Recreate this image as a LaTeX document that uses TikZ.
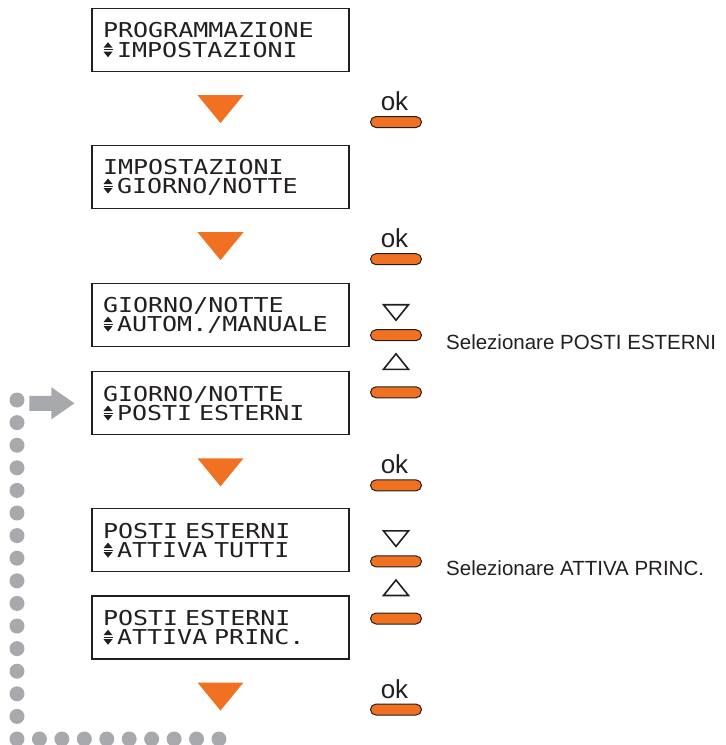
\documentclass[tikz,border=0pt]{standalone}
\usepackage{fontspec}
\setmainfont{Liberation Sans}
\newfontfamily\lcdfont[FakeStretch=1.22]{DejaVu Sans Mono}
\usetikzlibrary{positioning,calc}

\definecolor{btnorange}{RGB}{241,113,35}
\definecolor{dotgray}{RGB}{168,169,173}
\definecolor{inkgray}{RGB}{35,31,32}

% up/down selector sign used on the display
\newcommand{\updn}{\tikz[baseline=0pt,x=1pt,y=1pt]{%
  \fill[inkgray] (0.5,9.5) -- (9.5,9.5) -- (5,15) -- cycle;
  \draw[inkgray,line width=1pt] (0.5,7.5) -- (9.5,7.5);
  \fill[inkgray] (0.5,5.5) -- (9.5,5.5) -- (5,0) -- cycle;
  \useasboundingbox (0,0) rectangle (14,15);}}

\tikzset{
  display/.style={draw=inkgray, line width=1.1pt, minimum width=257pt, minimum height=63pt,
    inner sep=0pt, text width=235pt, align=left, text=inkgray,
    font=\lcdfont\fontsize{20.5}{19.5}\selectfont},
  okbtn/.style={draw=inkgray, line width=1pt, fill=btnorange, rounded corners=5.5pt,
    minimum width=51pt, minimum height=11pt, inner sep=0pt},
  oklabel/.style={font=\fontsize{26}{26}\selectfont, text=inkgray, inner sep=0pt},
  hint/.style={font=\fontsize{20.5}{24}\selectfont, text=inkgray, inner sep=0pt, anchor=west},
  marker/.style={fill=btnorange},
  keytri/.style={draw=inkgray, line width=1.6pt, line join=miter}
}

\begin{document}
\begin{tikzpicture}[x=1pt, y=1pt]
  \useasboundingbox (0,0) rectangle (726,-745);

  \node[display] (disp1) at (220.5,-40) {PROGRAMMAZIONE\\\updn IMPOSTAZIONI};
  \node[display, below=73pt of disp1] (disp2) {IMPOSTAZIONI\\\updn GIORNO/NOTTE};
  \node[display, below=74pt of disp2] (disp3) {GIORNO/NOTTE\\\updn AUTOM./MANUALE};
  \node[display, below=24pt of disp3] (disp4) {GIORNO/NOTTE\\\updn POSTI ESTERNI};
  \node[display, below=73pt of disp4] (disp5) {POSTI ESTERNI\\\updn ATTIVA TUTTI};
  \node[display, below=23pt of disp5] (disp6) {POSTI ESTERNI\\\updn ATTIVA PRINC.};

  % orange step markers and ok keys
  \foreach \i/\d in {1/disp1,2/disp2,3/disp4,4/disp6}{
    \fill[marker] ([yshift=-23pt]\d.south) ++(-23pt,0) -- ++(46pt,0) -- ++(-23pt,-28pt) -- cycle;
    \node[okbtn] (ok\i) at ([xshift=175.5pt,yshift=-50pt]\d.south) {};
    \node[oklabel, above=5pt of ok\i, xshift=-1.5pt] (okt\i) {ok};
  }

  % scroll keys
  \node[okbtn] (dn1) at ([xshift=175.5pt,yshift=-20pt]disp3.center) {};
  \node[okbtn] (up1) at ([xshift=175.5pt,yshift=11pt]disp4.center) {};
  \node[okbtn] (dn2) at ([xshift=175.5pt,yshift=-21pt]disp5.center) {};
  \node[okbtn] (up2) at ([xshift=175.5pt,yshift=9pt]disp6.center) {};
  \foreach \k in {dn1,dn2}
    \draw[keytri] ([yshift=9pt]\k.north) -- ++(-12.5pt,15.5pt) -- ++(25pt,0) -- cycle;
  \foreach \k in {up1,up2}
    \draw[keytri] ([yshift=17pt]\k.north) ++(-12.5pt,0) -- ++(25pt,0) -- ++(-12.5pt,15.5pt) -- cycle;

  \node[hint] (sel1) at ([xshift=24pt,yshift=-7pt]dn1.east) {Selezionare POSTI ESTERNI};
  \node[hint] (sel2) at ([xshift=24pt,yshift=-7pt]dn2.east) {Selezionare ATTIVA PRINC.};

  % return loop
  \foreach \i in {0,...,15}
    \fill[dotgray] (17,-400-22.6*\i) circle (7.5);
  \foreach \i in {1,...,9}
    \fill[dotgray] (17+22.44*\i,-739) circle (7.5);
  \fill[dotgray] ([xshift=-17pt]disp4.west) -- ++(-23pt,16pt) -- ++(0,-8.5pt) -- ++(-22pt,0)
    -- ++(0,-15pt) -- ++(22pt,0) -- ++(0,-8.5pt) -- cycle;
\end{tikzpicture}
\end{document}
